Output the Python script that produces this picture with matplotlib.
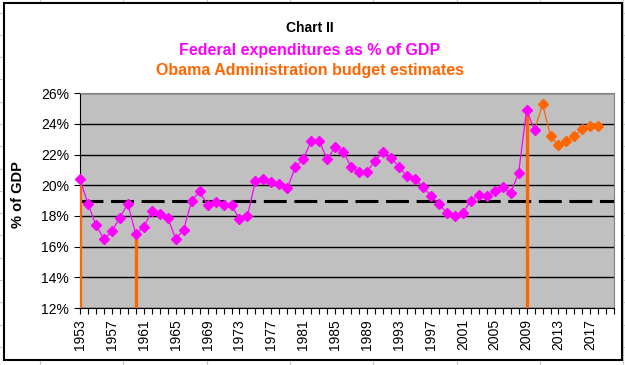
import numpy as np
import matplotlib.pyplot as plt
from matplotlib.lines import Line2D
from matplotlib.patches import Rectangle

plt.rcParams['font.family'] = ['Liberation Sans', 'DejaVu Sans']

# Federal expenditures as % of GDP (actuals)
years_actual = list(range(1953, 2011))
outlays_actual = [20.4, 18.8, 17.4, 16.5, 17.0, 17.9, 18.8, 16.8, 17.3, 18.3,
                  18.1, 17.9, 16.5, 17.1, 19.0, 19.6, 18.7, 18.9, 18.7, 18.7,
                  17.8, 18.0, 20.3, 20.4, 20.2, 20.1, 19.8, 21.2, 21.7, 22.9,
                  22.9, 21.7, 22.5, 22.2, 21.2, 20.9, 20.9, 21.6, 22.2, 21.8,
                  21.2, 20.6, 20.4, 19.9, 19.3, 18.8, 18.2, 18.0, 18.2, 19.0,
                  19.4, 19.3, 19.6, 19.9, 19.5, 20.8, 24.9, 23.6]

# Obama administration budget estimates
years_est = list(range(2011, 2019))
outlays_est = [25.3, 23.2, 22.6, 22.9, 23.2, 23.7, 23.9, 23.9]

avg_level = 19.0
marker_years = [1953, 1960, 2009]
tick_years = list(range(1953, 2018, 4))

W, H = 625, 365
def fx(px):
    return px / W
def fy(py):
    return 1 - py / H

fig = plt.figure(figsize=(6.25, 3.65), dpi=100)

# spreadsheet cell lines behind the chart
for py in np.arange(12.5, 365, 22.3):
    fig.add_artist(Line2D([0, 1], [fy(py), fy(py)], color='#c8c8c8', lw=0.8, zorder=0))
for px in [40, 123, 207, 290, 373, 457, 540, 623]:
    fig.add_artist(Line2D([fx(px), fx(px)], [0, 1], color='#c8c8c8', lw=0.8, zorder=0))

# chart area
fig.add_artist(Rectangle((fx(4), fy(360)), fx(622) - fx(4), fy(3) - fy(360),
                         facecolor='white', edgecolor='black', lw=1.5, zorder=0.5))

ax = fig.add_axes([fx(80), fy(308), fx(614.3) - fx(80), fy(93.3) - fy(308)])
ax.set_zorder(1)
ax.set_facecolor('#c0c0c0')

ax.set_ylim(12, 26)
ax.set_xlim(1953, 2020)
ax.set_yticks(np.arange(12, 27, 2))
ax.set_yticklabels(['%d%%' % v for v in range(12, 27, 2)])
ax.yaxis.grid(True, color='black', lw=1.0)
ax.set_axisbelow(True)

ax.set_xticks(tick_years)
ax.set_xticklabels([str(y) for y in tick_years], rotation=90)
ax.set_xticks(range(1953, 2021), minor=True)
ax.tick_params(axis='x', which='both', direction='out', length=4, width=0.8, pad=4, labelsize=10)
ax.tick_params(axis='y', direction='out', length=4, width=0.8, pad=4, labelsize=10)

for s in ['top', 'right']:
    ax.spines[s].set_color('#808080')
for s in ['left', 'bottom']:
    ax.spines[s].set_color('black')

ax.axhline(avg_level, color='black', lw=2.2, dashes=(7.5, 2.5), zorder=2)

vals = [outlays_actual[years_actual.index(y)] for y in marker_years]
ax.vlines(marker_years, 12, vals, color='#ff6600', lw=2.4, zorder=3)

ax.plot([years_actual[-1]] + years_est, [outlays_actual[-1]] + outlays_est,
        color='#ff6600', lw=0.9, marker='D', markersize=5, markevery=list(range(1, 9)),
        zorder=4, clip_on=False)
ax.plot(years_actual, outlays_actual, color='#ff00ff', lw=0.9, marker='D',
        markersize=5, zorder=4, clip_on=False)

ax.set_ylabel('% of GDP', fontsize=10.5, fontweight='bold')
ax.yaxis.set_label_coords(-0.103, 0.53)

fig.text(fx(310), fy(28), 'Chart II', ha='center', va='center', fontsize=10, fontweight='bold')
fig.text(fx(310), fy(50), 'Federal expenditures as % of GDP', ha='center', va='center',
         fontsize=11.5, fontweight='bold', color='#ff00ff')
fig.text(fx(310), fy(71), 'Obama Administration budget estimates', ha='center', va='center',
         fontsize=11.5, fontweight='bold', color='#ff6600')

fig.savefig('out.png', dpi=100)
